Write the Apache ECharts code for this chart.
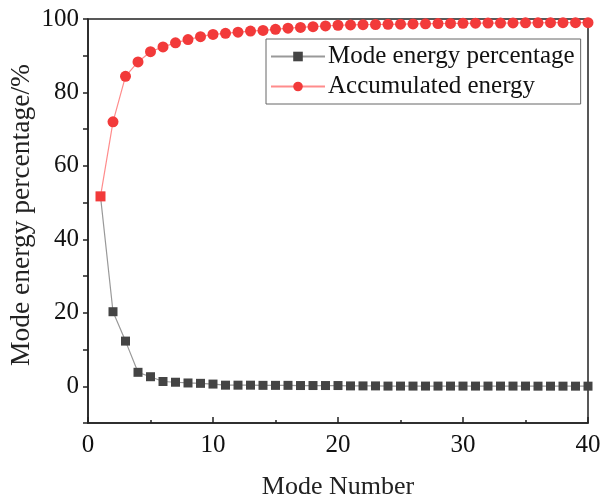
<!DOCTYPE html>
<html>
<head>
<meta charset="utf-8">
<script src="https://cdn.jsdelivr.net/npm/echarts@6/dist/echarts.min.js"></script>
<style>
  html, body { margin: 0; padding: 0; background: #fff; }
  #chart { width: 600px; height: 500px; }
</style>
</head>
<body>
<div id="chart"></div>
<script>
// Mode index 1..40
const modeNumbers = Array.from({ length: 40 }, (_, i) => i + 1);

// Energy share of each mode (%)
const modeEnergy = [
  51.7, 20.3, 12.3, 3.8, 2.6, 1.3, 1.1, 0.9, 0.8, 0.6,
  0.3, 0.3, 0.3, 0.25, 0.25, 0.25, 0.2, 0.2, 0.2, 0.2,
  0.1, 0.1, 0.1, 0.05, 0.05, 0.05, 0.05, 0.05, 0.05, 0.05,
  0.05, 0.05, 0.05, 0.05, 0.05, 0.03, 0.03, 0.03, 0.03, 0.03
];

// Accumulated energy (%)
const accumulated = [
  51.7, 72.0, 84.4, 88.3, 91.1, 92.4, 93.5, 94.4, 95.2, 95.8,
  96.1, 96.4, 96.7, 96.9, 97.2, 97.5, 97.7, 97.9, 98.1, 98.3,
  98.4, 98.45, 98.5, 98.55, 98.6, 98.65, 98.7, 98.75, 98.8, 98.82,
  98.85, 98.88, 98.9, 98.92, 98.95, 98.97, 99.0, 99.0, 99.0, 99.0
];

const seriesNames = ['Mode energy percentage', 'Accumulated energy'];

const FONT = '"Liberation Serif", "Times New Roman", serif';
const chart = echarts.init(document.getElementById('chart'));

chart.setOption({
  backgroundColor: '#fff',
  animation: false,
  grid: {
    left: 88, right: 12, top: 19, bottom: 77,
    outerBoundsMode: 'none',
    show: true, borderColor: '#222', borderWidth: 1.5
  },
  legend: {
    data: seriesNames,
    orient: 'vertical',
    left: 266, top: 39,
    itemWidth: 54, itemHeight: 12, itemGap: 5,
    padding: [5, 6, 5, 4],
    borderColor: '#666', borderWidth: 1, backgroundColor: '#fff',
    textStyle: { fontFamily: FONT, fontSize: 25, lineHeight: 25, color: '#111', padding: [0, 0, 0, -2] }
  },
  xAxis: {
    type: 'value', min: 0, max: 40, interval: 10,
    name: 'Mode Number', nameLocation: 'middle', nameGap: 51,
    nameTextStyle: { fontFamily: FONT, fontSize: 26, color: '#222' },
    axisLine: { onZero: false, lineStyle: { color: '#222', width: 1.5 } },
    axisTick: { inside: true, length: 6, lineStyle: { color: '#222', width: 1.5 } },
    minorTick: { show: true, splitNumber: 2, length: 3, lineStyle: { color: '#222', width: 1.5 } },
    axisLabel: { fontFamily: FONT, fontSize: 25, color: '#111', margin: 10 },
    splitLine: { show: false }
  },
  yAxis: {
    type: 'value', min: -10, max: 100, interval: 10,
    name: 'Mode energy percentage/%', nameLocation: 'middle', nameGap: 52,
    nameMoveOverlap: false,
    nameTextStyle: { fontFamily: FONT, fontSize: 27.5, color: '#222', padding: [0, 0, 0, 12] },
    axisLine: { lineStyle: { color: '#222', width: 1.5 } },
    axisTick: { length: 5, lineStyle: { color: '#222', width: 1.5 } },
    axisLabel: {
      fontFamily: FONT, fontSize: 25, color: '#111', margin: 9,
      formatter: v => (v % 20 === 0 && v >= 0 ? String(v) : '')
    },
    splitLine: { show: false }
  },
  series: [
    {
      name: seriesNames[0],
      type: 'line',
      data: modeNumbers.map((m, i) => [m, modeEnergy[i]]),
      symbol: 'rect', symbolSize: 9,
      itemStyle: { color: '#444' },
      lineStyle: { color: '#999', width: 1.2 },
      z: 2
    },
    {
      name: seriesNames[1],
      type: 'line',
      data: modeNumbers.map((m, i) => (i === 0
        ? { value: [m, accumulated[i]], symbol: 'rect', symbolSize: 10 }
        : [m, accumulated[i]])),
      symbol: 'circle', symbolSize: 11,
      itemStyle: { color: '#f23a3a' },
      lineStyle: { color: '#ff8c8c', width: 1.2 },
      z: 3
    }
  ]
});
</script>
</body>
</html>
